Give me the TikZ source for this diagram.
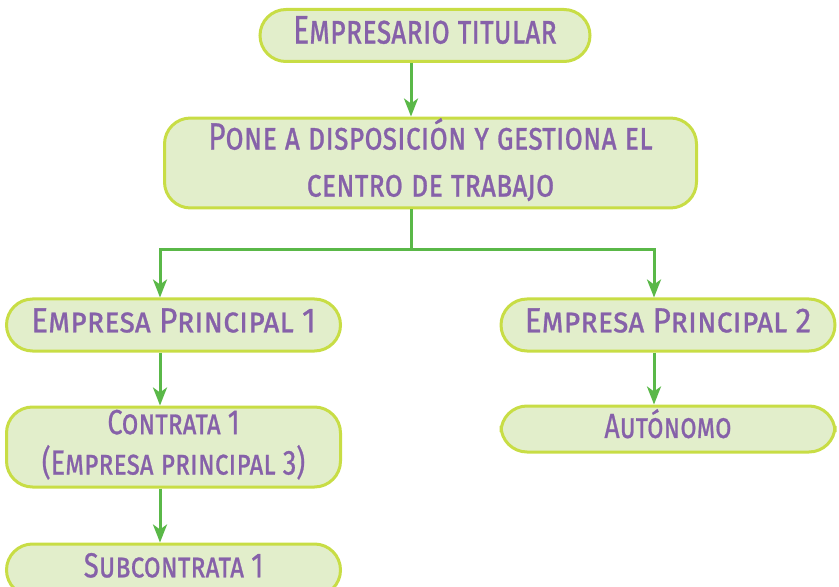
\documentclass[tikz,border=0pt]{standalone}
\usepackage{fontspec}
\setmainfont{Fira Sans}[FakeBold=0.8]
\usepackage{graphicx}
\usetikzlibrary{arrows.meta}
\definecolor{cajafondo}{HTML}{E2EECB}
\definecolor{cajaborde}{HTML}{C8DD45}
\definecolor{textolila}{HTML}{8661A9}
\definecolor{flechaverde}{HTML}{5AB848}
\newcommand{\rotulo}[2][0.745]{\raisebox{\dimexpr 0.2\baselineskip-0.3445em\relax}{\scalebox{#1}[1]{\begin{tabular}{@{}c@{}}#2\end{tabular}}}}
\begin{document}
\begin{tikzpicture}[x=0.5pt, y=-0.5pt,
			caja/.style={draw=cajaborde, fill=cajafondo, line width=1.5pt, rounded corners=13pt, inner sep=0pt, text=textolila, font=\fontsize{17.4}{18.35}\selectfont\scshape},
			cajagrande/.style={caja, font=\fontsize{20}{19}\selectfont\scshape},
			flecha/.style={draw=flechaverde, line width=1.5pt, -{Stealth[length=9pt,width=7pt,inset=2.5pt]}}
		]
		\useasboundingbox (0,0) rectangle (839,587);

		\node[cajagrande, minimum width=165pt, minimum height=26pt] (titular) at (425,35.5) {\rotulo{Empresario titular}};
		\node[cajagrande, font=\fontsize{19}{19}\selectfont\scshape, minimum width=266pt, minimum height=44pt] (centro) at (430.5,163) {\rotulo[0.784]{Pone a disposición y gestiona el\\[4.5pt]centro de trabajo}};

		\node[caja, minimum width=167pt, minimum height=26pt] (ppal1) at (173.5,325) {\rotulo[0.905]{Empresa Principal 1}};
		\node[caja, minimum width=167pt, minimum height=40pt] (contrata) at (173.5,447) {\rotulo[0.779]{Contrata 1\\(Empresa principal 3)}};
		\node[caja, minimum width=167pt, minimum height=26pt] (subcontrata) at (173.5,570) {\rotulo[0.789]{Subcontrata 1}};

		\node[caja, minimum width=167pt, minimum height=26pt] (ppal2) at (668,325) {\rotulo[0.905]{Empresa Principal 2}};
		\node[caja, minimum width=167pt, minimum height=23pt] (autonomo) at (668,429) {\rotulo[0.765]{Autónomo}};

		\coordinate (reparto) at (411,250);
		\coordinate (izq) at (160,250);
		\coordinate (der) at (654,250);

		\draw[flecha] (titular.south -| reparto) -- (centro.north -| reparto);
		\draw[flecha] (centro.south -| reparto) -- (reparto) -- (izq) -- (ppal1.north -| izq);
		\draw[flecha] (reparto) -- (der) -- (ppal2.north -| der);
		\draw[flecha] (ppal1.south -| izq) -- (contrata.north -| izq);
		\draw[flecha] (contrata.south -| izq) -- (subcontrata.north -| izq);
		\draw[flecha] (ppal2.south -| der) -- (autonomo.north -| der);
	\end{tikzpicture}
\end{document}
